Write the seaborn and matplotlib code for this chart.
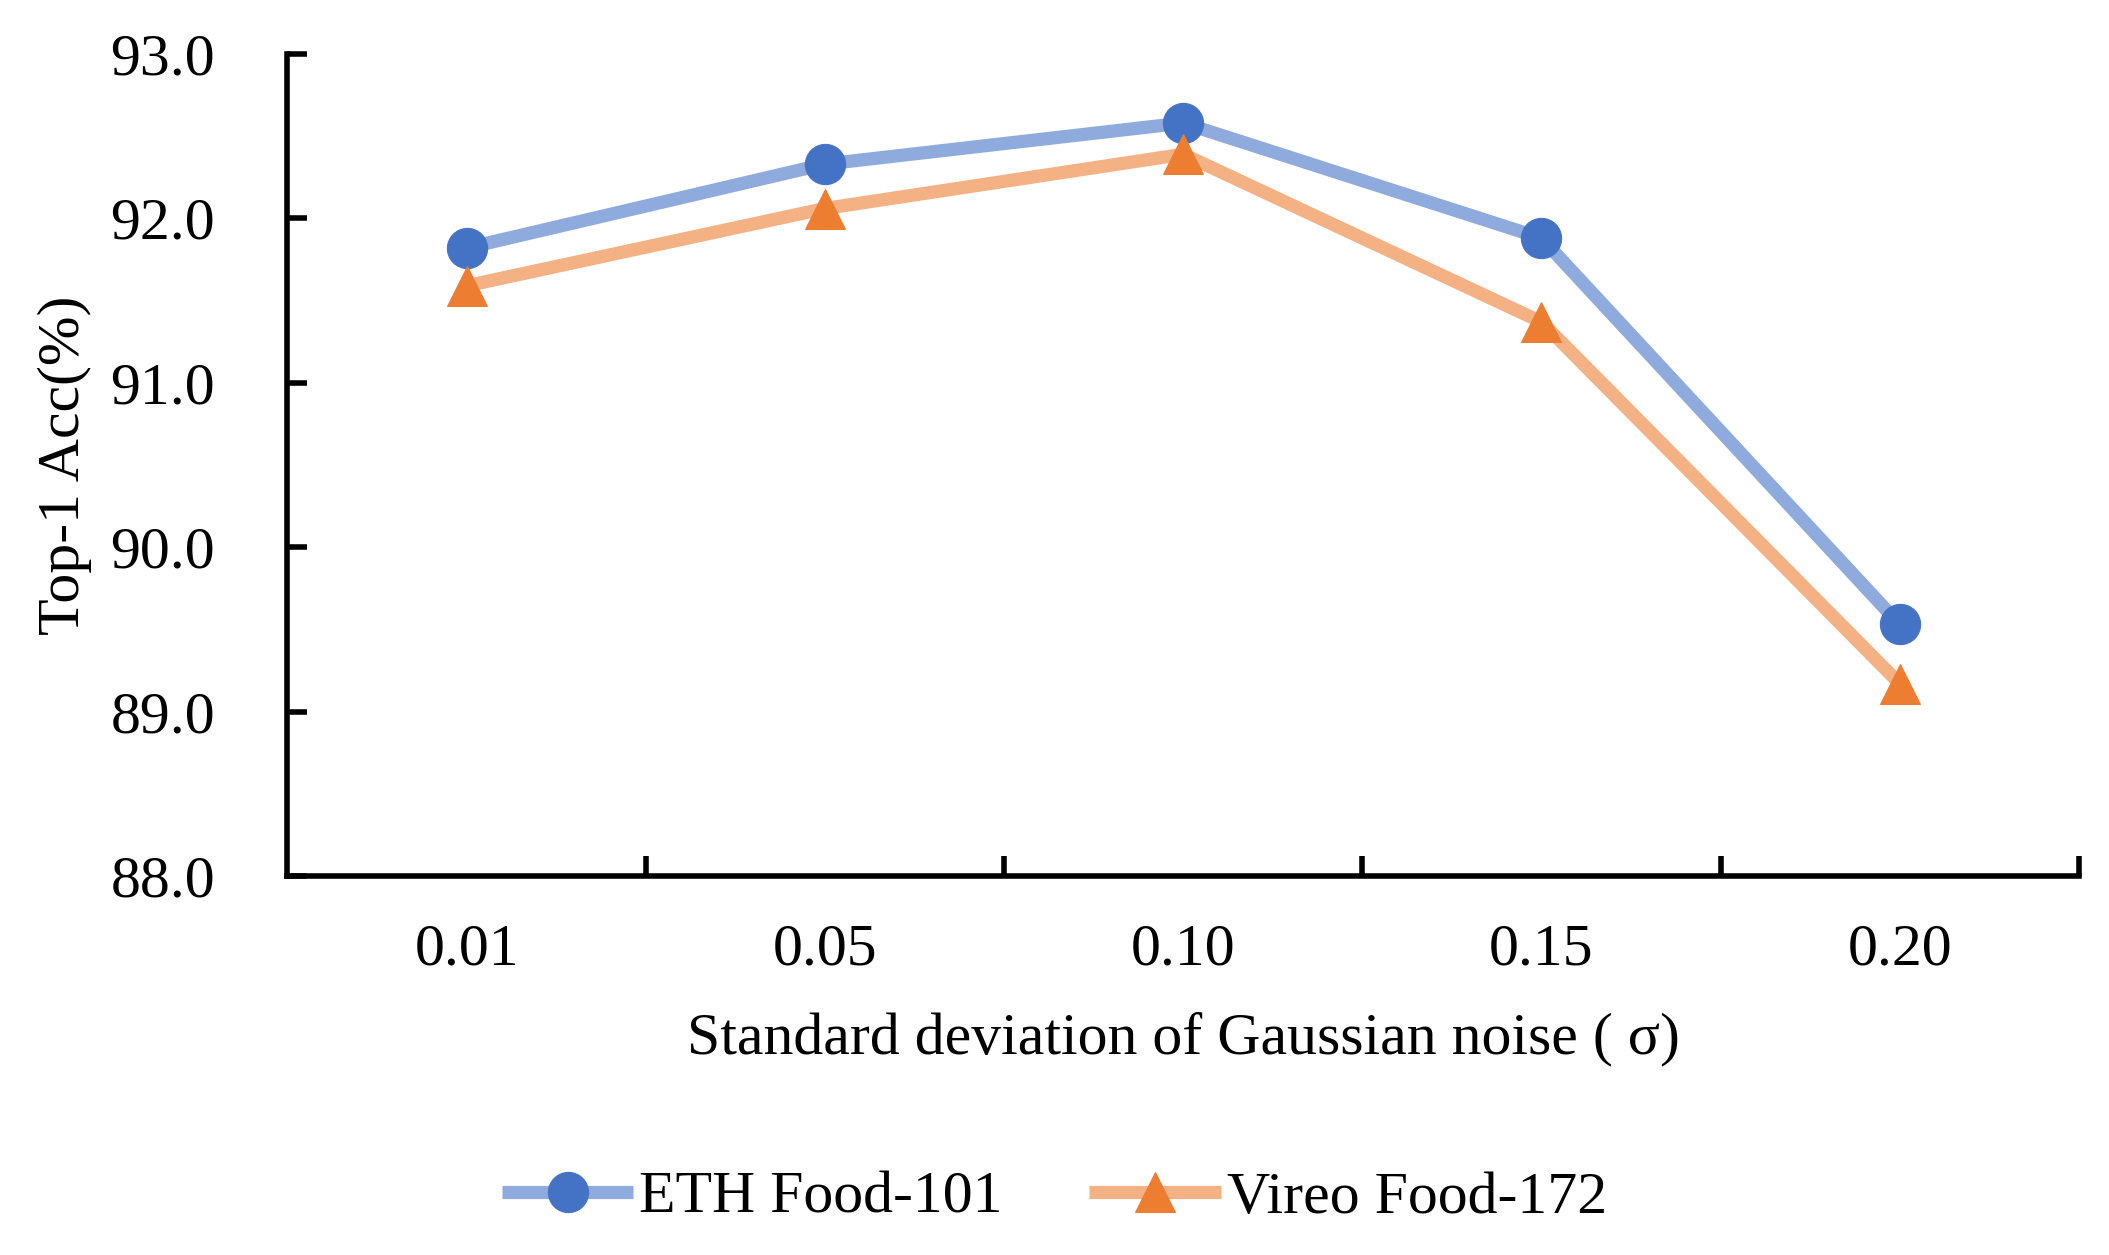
import numpy as np
import pandas as pd
import matplotlib
matplotlib.use('Agg')
import matplotlib.pyplot as plt
import seaborn as sns
from matplotlib.ticker import FixedLocator, FormatStrFormatter

# Data
sigma_labels = ['0.01', '0.05', '0.10', '0.15', '0.20']
eth_food101 = [91.82, 92.33, 92.58, 91.88, 89.53]
vireo_food172 = [91.59, 92.06, 92.39, 91.37, 89.17]
y_ticks = [88.0, 89.0, 90.0, 91.0, 92.0, 93.0]


def build_frame():
    df = pd.DataFrame({
        'sigma': sigma_labels * 2,
        'acc': eth_food101 + vireo_food172,
        'dataset': ['ETH Food-101'] * len(sigma_labels) + ['Vireo Food-172'] * len(sigma_labels),
    })
    return df


def plot_accuracy(df):
    sns.set_style('white')
    plt.rcParams['font.family'] = ['Liberation Serif', 'DejaVu Serif']
    plt.rcParams['text.color'] = 'black'
    plt.rcParams['axes.labelcolor'] = 'black'
    plt.rcParams['xtick.color'] = 'black'
    plt.rcParams['ytick.color'] = 'black'

    fig = plt.figure(figsize=(21.09, 12.55), dpi=100)
    ax = fig.add_axes([0.1363, 0.302, 0.8494, 0.655])

    styles = {
        'ETH Food-101': dict(color='#8FAADC', marker='o', markersize=29,
                             markerfacecolor='#4472C4', markeredgecolor='#4472C4'),
        'Vireo Food-172': dict(color='#F4B183', marker='^', markersize=29,
                               markerfacecolor='#ED7D31', markeredgecolor='#ED7D31'),
    }
    for name, kw in styles.items():
        sub = df[df['dataset'] == name]
        sns.lineplot(data=sub, x='sigma', y='acc', ax=ax, linewidth=9.5,
                     label=name, solid_capstyle='butt', **kw)

    ax.set_xlim(-0.5, len(sigma_labels) - 0.5)
    ax.set_ylim(88.0, 93.0)
    ax.set_yticks(y_ticks)
    ax.yaxis.set_major_formatter(FormatStrFormatter('%.1f'))

    # category boundaries carry the visible x ticks
    ax.xaxis.set_minor_locator(FixedLocator(np.arange(0.5, len(sigma_labels), 1.0)))
    ax.tick_params(axis='x', which='major', length=0, pad=34, labelsize=43)
    ax.tick_params(axis='x', which='minor', direction='in', length=14.5, width=4,
                   bottom=True)
    ax.tick_params(axis='y', which='major', direction='in', length=14.5, width=4,
                   left=True, pad=52, labelsize=43)

    for side in ['top', 'right']:
        ax.spines[side].set_visible(False)
    for side in ['left', 'bottom']:
        ax.spines[side].set_linewidth(4)
        ax.spines[side].set_color('black')

    ax.set_xlabel('Standard deviation of Gaussian noise ( σ)', fontsize=43)
    ax.set_ylabel('Top-1 Acc(%)', fontsize=43)
    ax.xaxis.set_label_coords(0.5, -0.165)
    ax.yaxis.label.set_va('center')
    ax.yaxis.set_label_coords(-0.124, 0.5)

    handles, labels = ax.get_legend_handles_labels()
    ax.get_legend().remove()
    fig.legend(handles, labels, loc='center', bbox_to_anchor=(0.5, 0.045),
               ncol=2, frameon=False, fontsize=43, handlelength=2.2,
               handletextpad=0.1, columnspacing=1.45)

    fig.savefig('out.png', dpi=100)


if __name__ == '__main__':
    df = build_frame()
    plot_accuracy(df)
